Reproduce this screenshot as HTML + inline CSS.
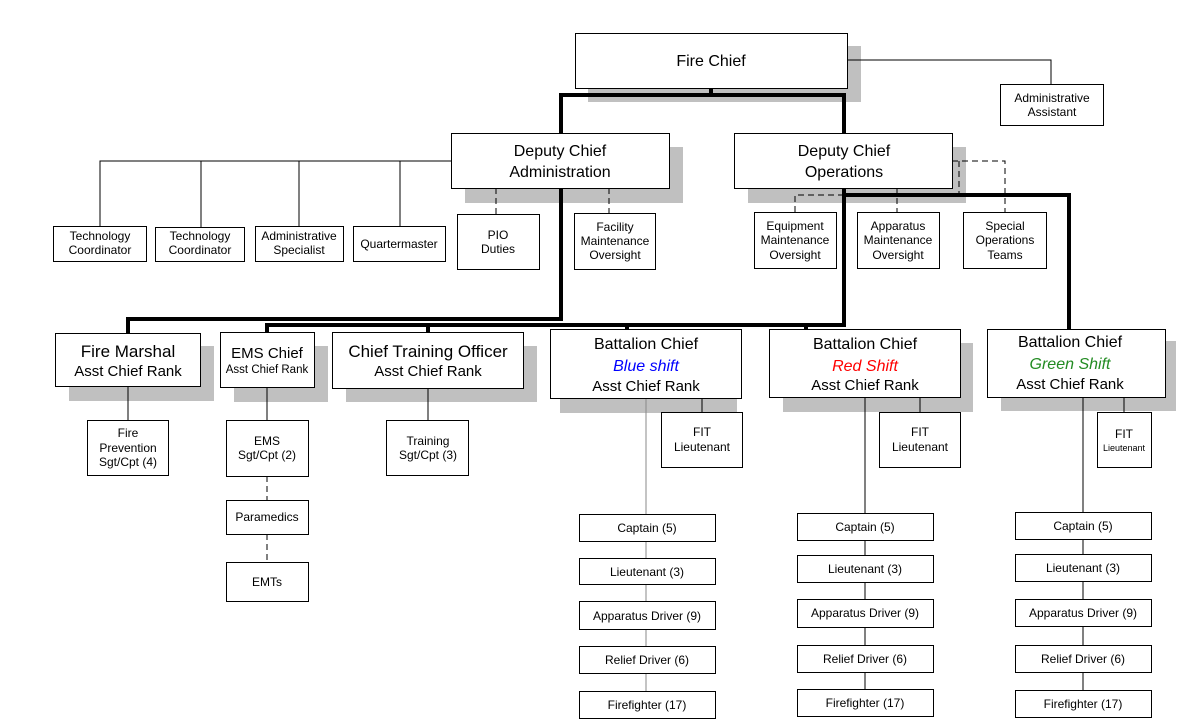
<!DOCTYPE html>
<html><head><meta charset="utf-8"><style>
html,body{margin:0;padding:0;background:#fff;}
svg{display:block;font-family:"Liberation Sans",Arial,sans-serif;}
</style></head><body>
<svg width="1186" height="721" viewBox="0 0 1186 721" xmlns="http://www.w3.org/2000/svg">
<g fill="#c0c0c0">
<rect x="588" y="46" width="273" height="56"/>
<rect x="465" y="147" width="218" height="56"/>
<rect x="748" y="147" width="218" height="56"/>
<rect x="69" y="346" width="145" height="55"/>
<rect x="234" y="346" width="94" height="56"/>
<rect x="346" y="346" width="191" height="56"/>
<rect x="560" y="343" width="177" height="70"/>
<rect x="783" y="343" width="190" height="69"/>
<rect x="1001" y="341" width="175" height="70"/>
</g>
<g fill="none" stroke="#000" stroke-width="1">
<polyline points="847,60 1051,60 1051,84"/>
<polyline points="451,161 100,161 100,226"/>
<line x1="201" y1="161" x2="201" y2="227"/>
<line x1="299" y1="161" x2="299" y2="226"/>
<line x1="400" y1="161" x2="400" y2="226"/>
<line x1="128" y1="386" x2="128" y2="420"/>
<line x1="267" y1="387" x2="267" y2="420"/>
<line x1="428" y1="388" x2="428" y2="420"/>
<line x1="702" y1="398" x2="702" y2="412"/>
<line x1="920" y1="397" x2="920" y2="412"/>
<line x1="1124" y1="397" x2="1124" y2="412"/>
<line x1="865" y1="397" x2="865" y2="716"/>
<line x1="1083" y1="397" x2="1083" y2="717"/>
</g>
<line x1="646" y1="398" x2="646" y2="718" stroke="#888" stroke-width="1"/>
<g fill="none" stroke="#000" stroke-width="1" stroke-dasharray="6,4">
<line x1="496" y1="188" x2="496" y2="214"/>
<line x1="609" y1="188" x2="609" y2="213"/>
<polyline points="844,195 795,195 795,212"/>
<line x1="897" y1="188" x2="897" y2="212"/>
<polyline points="952,161 1005,161 1005,212"/>
<line x1="959" y1="161" x2="959" y2="195"/>
<line x1="267" y1="476" x2="267" y2="500"/>
<line x1="267" y1="534" x2="267" y2="562"/>
</g>
<g fill="none" stroke="#000" stroke-width="4">
<polyline points="711,88 711,95"/>
<polyline points="561,133 561,95 844,95 844,133"/>
<polyline points="561,188 561,319 128,319 128,333"/>
<polyline points="844,188 844,325 267,325 267,332"/>
<line x1="428" y1="325" x2="428" y2="332"/>
<line x1="627" y1="325" x2="627" y2="329"/>
<line x1="806" y1="325" x2="806" y2="329"/>
<polyline points="844,195 1069,195 1069,329"/>
</g>
<g fill="#fff" stroke="#000" stroke-width="1">
<rect x="575.5" y="33.5" width="272" height="55"/>
<rect x="1000.5" y="84.5" width="103" height="41"/>
<rect x="451.5" y="133.5" width="218" height="55"/>
<rect x="734.5" y="133.5" width="218" height="55"/>
<rect x="53.5" y="226.5" width="93" height="35"/>
<rect x="155.5" y="227.5" width="89" height="34"/>
<rect x="255.5" y="226.5" width="88" height="35"/>
<rect x="353.5" y="226.5" width="92" height="35"/>
<rect x="457.5" y="214.5" width="82" height="55"/>
<rect x="574.5" y="213.5" width="81" height="56"/>
<rect x="754.5" y="212.5" width="82" height="56"/>
<rect x="857.5" y="212.5" width="82" height="56"/>
<rect x="963.5" y="212.5" width="83" height="56"/>
<rect x="55.5" y="333.5" width="145" height="53"/>
<rect x="220.5" y="332.5" width="94" height="55"/>
<rect x="332.5" y="332.5" width="191" height="56"/>
<rect x="550.5" y="329.5" width="191" height="69"/>
<rect x="769.5" y="329.5" width="191" height="68"/>
<rect x="987.5" y="329.5" width="178" height="68"/>
<rect x="87.5" y="420.5" width="81" height="55"/>
<rect x="226.5" y="420.5" width="82" height="56"/>
<rect x="226.5" y="500.5" width="82" height="34"/>
<rect x="226.5" y="562.5" width="82" height="39"/>
<rect x="386.5" y="420.5" width="82" height="55"/>
<rect x="661.5" y="412.5" width="81" height="55"/>
<rect x="879.5" y="412.5" width="81" height="55"/>
<rect x="1097.5" y="412.5" width="54" height="55"/>
<rect x="579.5" y="514.5" width="136" height="27"/>
<rect x="579.5" y="558.5" width="136" height="26"/>
<rect x="579.5" y="601.5" width="136" height="28"/>
<rect x="579.5" y="646.5" width="136" height="27"/>
<rect x="579.5" y="691.5" width="136" height="27"/>
<rect x="797.5" y="513.5" width="136" height="27"/>
<rect x="797.5" y="555.5" width="136" height="27"/>
<rect x="797.5" y="599.5" width="136" height="28"/>
<rect x="797.5" y="645.5" width="136" height="27"/>
<rect x="797.5" y="689.5" width="136" height="27"/>
<rect x="1015.5" y="512.5" width="136" height="27"/>
<rect x="1015.5" y="554.5" width="136" height="27"/>
<rect x="1015.5" y="599.5" width="136" height="27"/>
<rect x="1015.5" y="645.5" width="136" height="27"/>
<rect x="1015.5" y="690.5" width="136" height="27"/>
</g>
<g text-anchor="middle" fill="#000">
<text x="711" y="66" font-size="16">Fire Chief</text>
<text x="1052" y="102" font-size="12">Administrative</text>
<text x="1052" y="116" font-size="12">Assistant</text>
<text x="560" y="156" font-size="16">Deputy Chief</text>
<text x="560" y="177" font-size="16">Administration</text>
<text x="844" y="156" font-size="16">Deputy Chief</text>
<text x="844" y="177" font-size="16">Operations</text>
<g font-size="12">
<text x="100" y="240">Technology</text><text x="100" y="254">Coordinator</text>
<text x="200" y="240">Technology</text><text x="200" y="254">Coordinator</text>
<text x="299" y="240">Administrative</text><text x="299" y="254">Specialist</text>
<text x="399" y="248">Quartermaster</text>
<text x="498" y="239">PIO</text><text x="498" y="253">Duties</text>
<text x="615" y="231">Facility</text><text x="615" y="245">Maintenance</text><text x="615" y="259">Oversight</text>
<text x="795" y="230">Equipment</text><text x="795" y="244">Maintenance</text><text x="795" y="259">Oversight</text>
<text x="898" y="230">Apparatus</text><text x="898" y="244">Maintenance</text><text x="898" y="259">Oversight</text>
<text x="1005" y="230">Special</text><text x="1005" y="244">Operations</text><text x="1005" y="259">Teams</text>
<text x="128" y="437">Fire</text><text x="128" y="452">Prevention</text><text x="128" y="466">Sgt/Cpt (4)</text>
<text x="267" y="445">EMS</text><text x="267" y="459">Sgt/Cpt (2)</text>
<text x="267" y="521">Paramedics</text>
<text x="267" y="586">EMTs</text>
<text x="428" y="445">Training</text><text x="428" y="459">Sgt/Cpt (3)</text>
<text x="702" y="436">FIT</text><text x="702" y="451">Lieutenant</text>
<text x="920" y="436">FIT</text><text x="920" y="451">Lieutenant</text>
<text x="1124" y="438">FIT</text><text x="1124" y="451" font-size="9">Lieutenant</text>
</g>
<text x="128" y="357" font-size="17">Fire Marshal</text>
<text x="128" y="376" font-size="15">Asst Chief Rank</text>
<text x="267" y="358" font-size="15">EMS Chief</text>
<text x="267" y="373" font-size="11.5">Asst Chief Rank</text>
<text x="428" y="357" font-size="17">Chief Training Officer</text>
<text x="428" y="376" font-size="15">Asst Chief Rank</text>
<text x="646" y="349" font-size="16">Battalion Chief</text>
<text x="646" y="371" font-size="16" font-style="italic" fill="#0000ff">Blue shift</text>
<text x="646" y="391" font-size="15">Asst Chief Rank</text>
<text x="865" y="349" font-size="16">Battalion Chief</text>
<text x="865" y="371" font-size="16" font-style="italic" fill="#ff0000">Red Shift</text>
<text x="865" y="390" font-size="15">Asst Chief Rank</text>
<text x="1070" y="347" font-size="16">Battalion Chief</text>
<text x="1070" y="369" font-size="16" font-style="italic" fill="#228b22">Green Shift</text>
<text x="1070" y="389" font-size="15">Asst Chief Rank</text>
<g font-size="12">
<text x="647" y="532">Captain (5)</text>
<text x="647" y="576">Lieutenant (3)</text>
<text x="647" y="620">Apparatus Driver (9)</text>
<text x="647" y="664">Relief Driver (6)</text>
<text x="647" y="709">Firefighter (17)</text>
<text x="865" y="531">Captain (5)</text>
<text x="865" y="573">Lieutenant (3)</text>
<text x="865" y="617">Apparatus Driver (9)</text>
<text x="865" y="663">Relief Driver (6)</text>
<text x="865" y="707">Firefighter (17)</text>
<text x="1083" y="530">Captain (5)</text>
<text x="1083" y="572">Lieutenant (3)</text>
<text x="1083" y="617">Apparatus Driver (9)</text>
<text x="1083" y="663">Relief Driver (6)</text>
<text x="1083" y="708">Firefighter (17)</text>
</g>
</g>
</svg>
</body></html>
